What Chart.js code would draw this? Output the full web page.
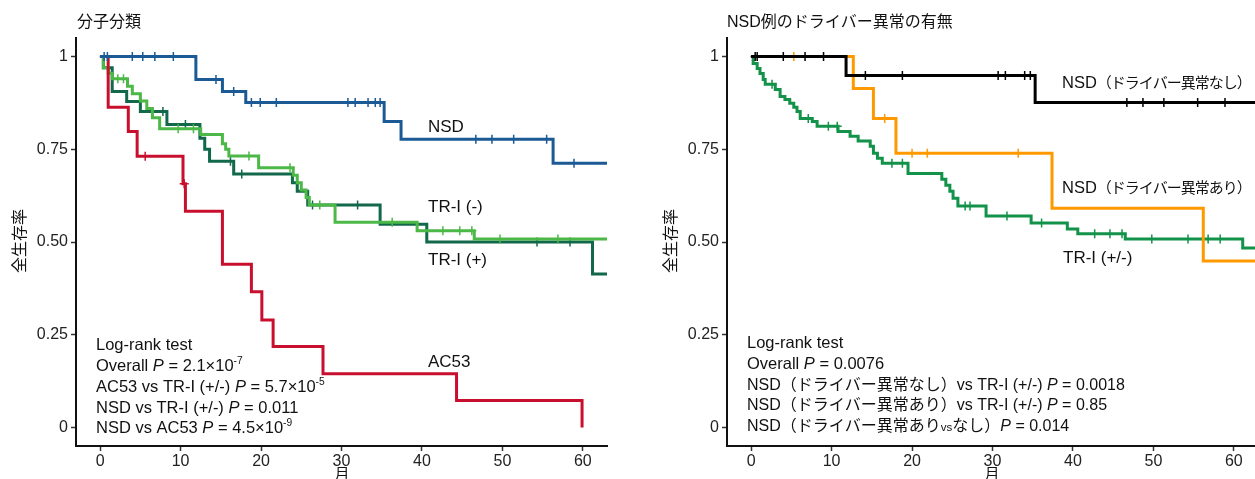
<!DOCTYPE html>
<html><head><meta charset="utf-8">
<script src="https://cdn.jsdelivr.net/npm/chart.js@4.4.1/dist/chart.umd.min.js"></script>
<style>
html,body{margin:0;padding:0;background:#fff;overflow:hidden;width:1255px;height:479px}
#l{position:absolute;left:0;top:0}
#r{position:absolute;left:640px;top:0}
</style></head><body>
<canvas id="l" width="640" height="479"></canvas>
<canvas id="r" width="640" height="479"></canvas>
<script>
// ---- shared axis ticks ----
const xTicks=[0,10,20,30,40,50,60];
const yTicks=[0,0.25,0.5,0.75,1];
const yTickLabels=['0','0.25','0.50','0.75','1'];

// ---- Left panel: 分子分類 ----
const leftTitle='分子分類';
const nsdT=[0,11.9,15.2,18.1,35.3,37.4,56.3,63];
const nsdS=[1,0.938,0.906,0.876,0.825,0.777,0.712,0.712];
const nsdCens=[0.5,0.9,4.0,5.3,6.8,9.1,14.4,16.6,18.8,19.9,21.9,30.8,31.7,33.3,34.2,34.8,46.7,48.7,51.4,55.5,58.9];

const trMinusT=[0,0.4,1.0,1.5,3.4,4.0,5.0,5.8,6.5,7.4,12.5,15.2,15.6,16.0,19.7,24.0,24.5,25.0,25.6,26.0,29.2,39.4,46.5,63];
const trMinusS=[1,0.97,0.955,0.94,0.92,0.9,0.88,0.86,0.835,0.805,0.79,0.765,0.75,0.732,0.70,0.68,0.66,0.64,0.62,0.60,0.553,0.53,0.508,0.508];
const trMinusCens=[2.2,2.9,9.7,11.6,18.5,23.6,27.3,36.3,42.6,44.7,46.2,49.7,56.9];

const trPlusT=[0,0.4,1.5,3.3,5.0,8.3,12.4,13.0,13.6,16.6,23.9,24.5,25.8,34.8,40.6,61.2,63];
const trPlusS=[1,0.97,0.906,0.879,0.852,0.817,0.78,0.75,0.718,0.683,0.66,0.637,0.60,0.548,0.50,0.414,0.414];
const trPlusCens=[7.8,10.6,16.2,17.6,26.4,32.0,54.3,58.4];

const ac53T=[0,1.0,3.5,4.6,10.3,10.6,15.2,18.8,20.1,21.5,27.7,44.3,59.9];
const ac53S=[1,0.863,0.798,0.731,0.657,0.583,0.44,0.366,0.29,0.218,0.145,0.073,0];
const ac53Cens=[5.6,10.45];

// ---- Right panel: NSD例のドライバー異常の有無 ----
const rightTitle='NSD例のドライバー異常の有無';
const nsdNoT=[0,11.8,35.3,63];
const nsdNoS=[1,0.949,0.876,0.876];
const nsdNoCens=[0.5,0.75,4.0,6.7,9.0,14.2,18.8,30.7,31.6,34.0,34.7,46.7,48.7,51.3,55.5,58.9];

const nsdYesT=[0,12.7,15.2,18.0,37.4,56.2,63];
const nsdYesS=[1,0.914,0.833,0.739,0.591,0.449,0.449];
const nsdYesCens=[5.3,16.6,20.0,21.9,33.2];

const trAllT=[0,0.25,0.75,1.1,1.5,1.75,3.0,3.6,4.2,4.8,5.3,5.7,6.1,7.6,8.2,10.8,12.3,13.3,14.8,15.2,15.7,16.3,19.5,23.7,24.2,24.7,25.1,25.7,29.2,34.8,39.3,40.6,46.5,61.1,63];
const trAllS=[1,0.981,0.968,0.954,0.938,0.925,0.911,0.892,0.884,0.874,0.863,0.852,0.833,0.825,0.812,0.798,0.785,0.772,0.758,0.739,0.726,0.712,0.685,0.669,0.653,0.637,0.618,0.597,0.570,0.551,0.535,0.522,0.508,0.484,0.484];
const trAllCens=[2.6,7.1,9.6,10.7,17.5,18.8,26.6,27.2,31.8,36.1,42.7,44.6,46.1,49.8,54.3,56.8,58.3];

const FONT='"Liberation Sans", Arial, "Noto Sans CJK JP", sans-serif';

function stepAt(T,S,t){let v=S[0];for(let i=0;i<T.length;i++){if(T[i]<=t)v=S[i];}return v;}
function curve(T,S,color,order){
  return {data:T.map((t,i)=>({x:t,y:S[i]})),borderColor:color,borderWidth:3,stepped:'before',
    pointRadius:0,fill:false,order:order,borderCapStyle:'butt',borderJoinStyle:'miter'};
}
function marks(T,S,C,color,order){
  return {data:C.map(t=>({x:t,y:stepAt(T,S,t)})),showLine:false,pointStyle:'cross',pointRadius:4.5,
    pointBorderWidth:1.5,pointBorderColor:color,pointBackgroundColor:color,order:order};
}

const textPlugin={id:'txt',afterDraw(chart,args,opts){
  const ctx=chart.ctx;ctx.save();
  (opts.items||[]).forEach(it=>{
    ctx.fillStyle=it.color||'#111';
    ctx.letterSpacing='0px';
    if(it.rot){ctx.save();ctx.translate(it.x,it.y);ctx.rotate(-Math.PI/2);ctx.font=it.size+'px '+FONT;
      ctx.textAlign='center';ctx.textBaseline='middle';ctx.fillText(it.text,0,0);ctx.restore();return;}
    if(it.center){ctx.font=it.size+'px '+FONT;ctx.textAlign='center';ctx.textBaseline='top';ctx.fillText(it.text,it.x,it.y);return;}
    let x=it.x;const segs=it.segs||[{t:it.text}];
    ctx.textAlign='left';ctx.textBaseline='alphabetic';
    segs.forEach(s=>{
      const base=s.size||it.size;
      const size=s.sup?base*0.62:(s.small?base*0.72:base);
      ctx.font=(s.i?'italic ':'')+size+'px '+FONT;
      ctx.letterSpacing=s.ls||'0px';
      const y=it.y-(s.sup?base*0.42:0);
      ctx.fillText(s.t,x,y);x+=ctx.measureText(s.t).width;
    });
  });
  ctx.restore();
}};

function makeChart(id,datasets,yWidth,padRight,items){
  const axisCommon={type:'linear',
    grid:{drawOnChartArea:false,drawTicks:true,tickLength:5,tickColor:'#333',tickWidth:1.5},
    border:{display:true,color:'#111',width:2},
    ticks:{color:'#222',font:{size:16,family:FONT},autoSkip:false,maxRotation:0}};
  return new Chart(document.getElementById(id),{
    type:'line',
    data:{datasets:datasets},
    plugins:[textPlugin],
    options:{responsive:false,animation:false,devicePixelRatio:1,
      layout:{padding:{top:38,right:padRight,left:0,bottom:0}},
      plugins:{legend:{display:false},tooltip:{enabled:false},txt:{items:items}},
      events:[],
      scales:{
        x:Object.assign({},axisCommon,{min:-3,max:63,
          afterBuildTicks:s=>{s.ticks=xTicks.map(v=>({value:v}));},
          afterFit:s=>{s.height=33;},
          ticks:Object.assign({},axisCommon.ticks,{padding:1})}),
        y:Object.assign({},axisCommon,{min:-0.05,max:1.05,
          afterBuildTicks:s=>{s.ticks=yTicks.map(v=>({value:v}));},
          afterFit:s=>{s.width=yWidth;},
          ticks:Object.assign({},axisCommon.ticks,{padding:3,callback:(v)=>yTickLabels[yTicks.indexOf(v)]})})
      }
    }
  });
}

const C_NSD='#1b5a94',C_AC='#c8102e',C_TRM='#4cb847',C_TRP='#12684a';
makeChart('l',[
  curve(nsdT,nsdS,C_NSD,1),marks(nsdT,nsdS,nsdCens,C_NSD,0),
  curve(ac53T,ac53S,C_AC,3),marks(ac53T,ac53S,ac53Cens,C_AC,2),
  curve(trMinusT,trMinusS,C_TRM,5),marks(trMinusT,trMinusS,trMinusCens,C_TRM,4),
  curve(trPlusT,trPlusS,C_TRP,7),marks(trPlusT,trPlusS,trPlusCens,C_TRP,6)
],76,33,[
  {text:leftTitle,x:77,y:27,size:16},
  {text:'全生存率',rot:true,x:21,y:241,size:16},
  {text:'月',center:true,x:342,y:467,size:15},
  {text:'NSD',x:428,y:132,size:17},
  {text:'TR-I (-)',x:428,y:212,size:17},
  {text:'TR-I (+)',x:428,y:265,size:17},
  {text:'AC53',x:428,y:367,size:17},
  {text:'Log-rank test',x:96,y:350,size:16.5},
  {segs:[{t:'Overall '},{t:'P',i:true},{t:' = 2.1×10'},{t:'-7',sup:true}],x:96,y:371,size:16.5},
  {segs:[{t:'AC53 vs TR-I (+/-) '},{t:'P',i:true},{t:' = 5.7×10'},{t:'-5',sup:true}],x:96,y:392,size:16.5},
  {segs:[{t:'NSD vs TR-I (+/-) '},{t:'P',i:true},{t:' = 0.011'}],x:96,y:413,size:16.5},
  {segs:[{t:'NSD vs AC53 '},{t:'P',i:true},{t:' = 4.5×10'},{t:'-9',sup:true}],x:96,y:433,size:16.5}
]);

const C_NO='#000000',C_YES='#ff9900',C_ALL='#13924a';
makeChart('r',[
  curve(nsdNoT,nsdNoS,C_NO,1),marks(nsdNoT,nsdNoS,nsdNoCens,C_NO,0),
  curve(nsdYesT,nsdYesS,C_YES,3),marks(nsdYesT,nsdYesS,nsdYesCens,C_YES,2),
  curve(trAllT,trAllS,C_ALL,5),marks(trAllT,trAllS,trAllCens,C_ALL,4)
],87,22,[
  {text:rightTitle,x:87,y:27,size:16},
  {text:'全生存率',rot:true,x:32,y:241,size:16},
  {text:'月',center:true,x:352,y:467,size:15},
  {segs:[{t:'NSD',size:16.5},{t:'（ドライバー異常なし）',size:15,ls:'-1px'}],x:422,y:88,size:16},
  {segs:[{t:'NSD',size:16.5},{t:'（ドライバー異常あり）',size:15,ls:'-1px'}],x:422,y:193,size:16},
  {text:'TR-I (+/-)',x:423,y:263,size:17},
  {text:'Log-rank test',x:107,y:348,size:16.5},
  {segs:[{t:'Overall '},{t:'P',i:true},{t:' = 0.0076'}],x:107,y:369,size:16.5},
  {segs:[{t:'NSD（ドライバー異常なし）vs TR-I (+/-) '},{t:'P',i:true},{t:' = 0.0018'}],x:107,y:390,size:16},
  {segs:[{t:'NSD（ドライバー異常あり）vs TR-I (+/-) '},{t:'P',i:true},{t:' = 0.85'}],x:107,y:410,size:16},
  {segs:[{t:'NSD（ドライバー異常あり'},{t:'vs',small:true},{t:'なし）'},{t:'P',i:true},{t:' = 0.014'}],x:107,y:431,size:16}
]);
</script>
</body></html>
